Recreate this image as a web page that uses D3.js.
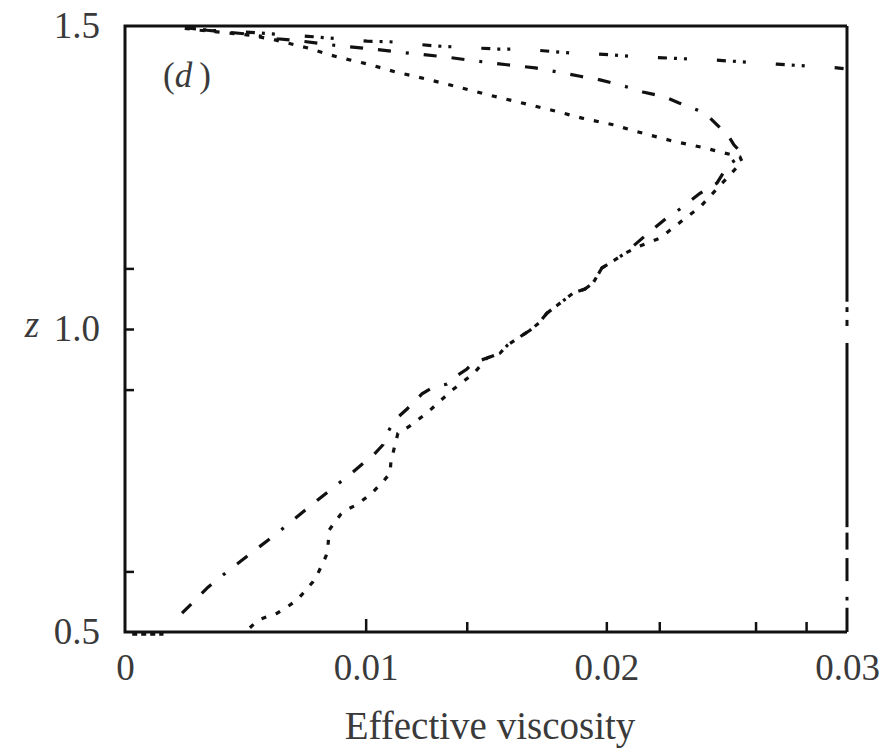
<!DOCTYPE html>
<html>
<head>
<meta charset="utf-8">
<script src="https://cdn.jsdelivr.net/npm/d3@7/dist/d3.min.js"></script>
<style>
  body { margin: 0; background: #fff; }
  svg text { font-family: 'Liberation Serif', 'Times New Roman', serif; fill: #3a3a3a; }
</style>
</head>
<body>
<script>
'use strict';
// panel (d): effective viscosity profiles against z

// series A (dash-dot): straight lower branch -> peak -> outer upper branch
let zA = [0.531, 0.574, 0.606, 0.635, 0.663, 0.701, 0.734, 0.764, 0.795, 0.809,
  0.828, 0.850, 0.868, 0.893, 0.904, 0.909, 0.921, 0.934, 0.944, 0.952,
  0.960, 0.974, 0.987, 0.998, 1.010, 1.026, 1.040, 1.059, 1.066, 1.076,
  1.101, 1.111, 1.125,
  1.158, 1.185, 1.198, 1.224, 1.241, 1.257, 1.274, 1.284,
  1.295, 1.304, 1.317, 1.337, 1.355, 1.361, 1.366, 1.373, 1.380, 1.386,
  1.391, 1.399, 1.404, 1.411, 1.417, 1.424, 1.431, 1.436, 1.442, 1.449,
  1.455, 1.462, 1.469, 1.475, 1.479, 1.487, 1.493, 1.497];
let viscA = [0.00237, 0.00345, 0.00445, 0.00540, 0.00632, 0.00748, 0.00852, 0.00947, 0.01039, 0.01072,
  0.01089, 0.01122, 0.01172, 0.01234, 0.01280, 0.01338, 0.01371, 0.01421, 0.01446, 0.01504,
  0.01558, 0.01591, 0.01641, 0.01683, 0.01720, 0.01753, 0.01799, 0.01861, 0.01911, 0.01945,
  0.01982, 0.02024, 0.02078,
  0.02173, 0.02256, 0.02306, 0.02389, 0.02460, 0.02485, 0.02518, 0.02555,
  0.02551, 0.02530, 0.02510, 0.02460, 0.02414, 0.02381, 0.02348, 0.02302, 0.02260, 0.02211,
  0.02152, 0.02090, 0.02044, 0.01974, 0.01891, 0.01799, 0.01704, 0.01587, 0.01463, 0.01330,
  0.01184, 0.01026, 0.00852, 0.00735, 0.00632, 0.00499, 0.00341, 0.00258];

// series B (dotted): kinked lower branch -> peak -> inner upper branch
let zB = [0.507, 0.520, 0.531, 0.541, 0.553, 0.564, 0.573, 0.583, 0.597, 0.625,
  0.639, 0.668, 0.677, 0.695, 0.703, 0.710, 0.723, 0.731, 0.748, 0.762,
  0.781, 0.809, 0.828, 0.840, 0.863, 0.899, 0.927, 0.952,
  0.960, 0.974, 0.987, 0.998, 1.010, 1.026, 1.040, 1.059, 1.066, 1.076,
  1.101, 1.111, 1.125,
  1.135, 1.150, 1.185, 1.201, 1.267, 1.276, 1.284,
  1.299, 1.310, 1.323, 1.337, 1.348, 1.361, 1.375, 1.386, 1.399, 1.411,
  1.424, 1.437, 1.449, 1.464, 1.477, 1.485, 1.493, 1.497];
let viscB = [0.00519, 0.00553, 0.00632, 0.00673, 0.00715, 0.00740, 0.00760, 0.00781, 0.00802, 0.00835,
  0.00843, 0.00848, 0.00864, 0.00898, 0.00927, 0.00964, 0.01006, 0.01030, 0.01072, 0.01101,
  0.01105, 0.01122, 0.01134, 0.01184, 0.01259, 0.01359, 0.01450, 0.01504,
  0.01558, 0.01591, 0.01641, 0.01683, 0.01720, 0.01753, 0.01799, 0.01861, 0.01911, 0.01945,
  0.01982, 0.02024, 0.02078,
  0.02127, 0.02223, 0.02335, 0.02389, 0.02543, 0.02564, 0.02555,
  0.02406, 0.02277, 0.02152, 0.02028, 0.01899, 0.01774, 0.01629, 0.01512, 0.01388, 0.01267,
  0.01126, 0.01010, 0.00881, 0.00756, 0.00623, 0.00519, 0.00312, 0.00229];

// series C (dash-dot-dot): runs along the top, then off the scale (clipped at 0.03)
let zC = [1.497, 1.493, 1.490, 1.483, 1.475, 1.474, 1.467, 1.462, 1.462, 1.455,
  1.455, 1.449, 1.444, 1.437, 1.431, 1.429];
let viscC = [0.00258, 0.00341, 0.00499, 0.00760, 0.01006, 0.01101, 0.01292, 0.01546, 0.01654, 0.01861,
  0.01924, 0.02140, 0.02443, 0.02709, 0.02958, 0.03000];
// clipped pieces of series C lying on the right edge (top and bottom z of each piece)
let cSideTop = [1.429, 1.036, 1.015, 0.977, 0.664, 0.622, 0.558];
let cSideBottom = [1.045, 1.028, 1.005, 0.673, 0.636, 0.584, 0.552];
let cSideVisc = 0.03;

// series E: short piece along the bottom boundary
let zE = [0.497, 0.497];
let viscE = [0.0003, 0.0016];

let xLabelTicks = [0, 0.01, 0.02, 0.03];
let xMarkTicks = [0.01, 0.0142, 0.02, 0.0222, 0.0262, 0.0283];
let yLabelTicks = [0.5, 1.0, 1.5];
let yMarkTicks = [0.6, 0.9, 1.0, 1.1];

(function() {
  let svg = d3.select('body').append('svg')
    .attr('width', 896)
    .attr('height', 752);

  let x = d3.scaleLinear().domain([0, 0.03]).range([125, 847]);
  let y = d3.scaleLinear().domain([0.5, 1.5]).range([632, 26]);

  // frame: left, bottom, top, and the short right pieces not covered by series C
  let frame = svg.append('g')
    .attr('stroke', '#111')
    .attr('stroke-width', 3)
    .attr('fill', 'none');
  frame.append('path')
    .attr('d', 'M' + x(0.03) + ',' + y(1.5) + 'H' + x(0) + 'V' + y(0.5) + 'H' + x(0.03));
  frame.append('line')
    .attr('x1', x(0.03)).attr('x2', x(0.03))
    .attr('y1', y(1.5)).attr('y2', y(1.429));
  frame.append('line')
    .attr('x1', x(0.03)).attr('x2', x(0.03))
    .attr('y1', y(0.54)).attr('y2', y(0.5));

  // inward ticks
  let xTickAxis = d3.axisBottom(x).tickValues(xMarkTicks)
    .tickSize(-10).tickFormat('');
  let gx = svg.append('g').attr('transform', 'translate(0,' + y(0.5) + ')').call(xTickAxis);
  gx.select('.domain').remove();
  gx.selectAll('line').attr('stroke', '#111').attr('stroke-width', 2.5)
    .attr('y2', d => d === 0.01 ? -13 : -10);

  let yTickAxis = d3.axisLeft(y).tickValues(yMarkTicks).tickSize(-9).tickFormat('');
  let gy = svg.append('g').attr('transform', 'translate(' + x(0) + ',0)').call(yTickAxis);
  gy.select('.domain').remove();
  gy.selectAll('line').attr('stroke', '#111').attr('stroke-width', 2.5);

  // tick labels
  let xLab = d3.axisBottom(x).tickValues(xLabelTicks).tickSize(0).tickPadding(22)
    .tickFormat(d => d === 0 ? '0' : d.toFixed(2));
  let gxl = svg.append('g').attr('transform', 'translate(0,' + y(0.5) + ')').call(xLab);
  gxl.select('.domain').remove();
  gxl.selectAll('text').style('font-size', '37px');

  let yLab = d3.axisLeft(y).tickValues(yLabelTicks).tickSize(0).tickPadding(25)
    .tickFormat(d3.format('.1f'));
  let gyl = svg.append('g').attr('transform', 'translate(' + x(0) + ',0)').call(yLab);
  gyl.select('.domain').remove();
  gyl.selectAll('text').style('font-size', '37px');

  // axis titles
  svg.append('text')
    .attr('x', 490).attr('y', 739)
    .attr('text-anchor', 'middle')
    .style('font-size', '39px')
    .text('Effective viscosity');

  svg.append('text')
    .attr('x', 32).attr('y', 337)
    .attr('text-anchor', 'middle')
    .style('font-size', '37px')
    .style('font-style', 'italic')
    .text('z');

  let panel = svg.append('text')
    .attr('x', 163).attr('y', 87)
    .style('font-size', '35px');
  panel.append('tspan').text('(');
  panel.append('tspan').style('font-style', 'italic').text('d');
  panel.append('tspan').attr('dx', 7).text(')');

  // series
  let line = d3.line()
    .x(d => x(d.v))
    .y(d => y(d.z));

  function toRows(zs, vs) {
    return zs.map((z, i) => ({ z: z, v: vs[i] }));
  }

  let curves = svg.append('g')
    .attr('fill', 'none')
    .attr('stroke', '#111')
    .attr('stroke-width', 3.2);

  curves.append('path')
    .datum(toRows(zA, viscA))
    .attr('d', line)
    .attr('stroke-dasharray', '13,15,13,15,3,15');

  curves.append('path')
    .datum(toRows(zB, viscB))
    .attr('d', line)
    .attr('stroke-dasharray', '5,10');

  curves.append('path')
    .datum(toRows(zC, viscC))
    .attr('d', line)
    .attr('stroke-dasharray', '9,7,3,7,3,30');

  curves.selectAll('.side')
    .data(cSideTop.map((z, i) => [{ z: z, v: cSideVisc }, { z: cSideBottom[i], v: cSideVisc }]))
    .enter()
    .append('path')
      .attr('class', 'side')
      .attr('d', line)
      .attr('stroke-width', 3);

  curves.append('path')
    .datum(toRows(zE, viscE))
    .attr('d', line)
    .attr('stroke-width', 4)
    .attr('stroke-dasharray', '5,4');
})();
</script>
</body>
</html>
